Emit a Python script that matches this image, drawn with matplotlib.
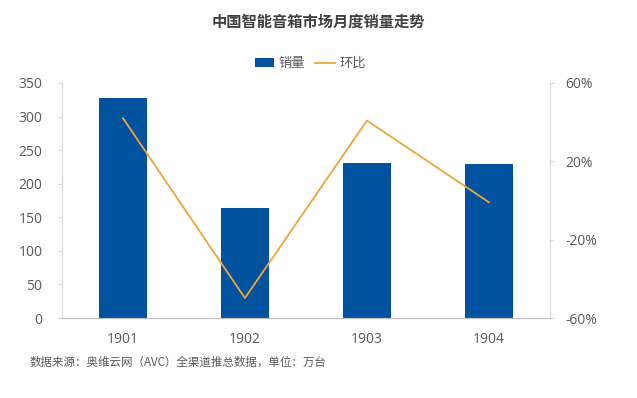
import matplotlib
matplotlib.use("Agg")
import matplotlib.pyplot as plt
from matplotlib.ticker import FuncFormatter
from matplotlib.lines import Line2D
from matplotlib.patches import Patch

plt.rcParams['font.family'] = ['Noto Sans CJK SC', 'DejaVu Sans']

months = ['1901', '1902', '1903', '1904']
sales = [327, 164, 231, 229]
mom = [42.0, -49.8, 40.8, -0.9]
left_ticks = [0, 50, 100, 150, 200, 250, 300, 350]
right_ticks = [-60, -20, 20, 60]

bar_color = '#00519E'
line_color = '#EEA53A'
text_color = '#595959'
spine_color = '#D9D9D9'

fig = plt.figure(figsize=(6.37, 3.98), dpi=100)
ax = fig.add_axes([0.0973, 0.201, 0.766, 0.5905])
ax2 = ax.twinx()

x = list(range(len(months)))
ax.bar(x, sales, width=0.4, color=bar_color, zorder=2)
ax2.plot(x, mom, color=line_color, lw=1.3, zorder=3)

ax.set_xlim(-0.5, 3.5)
ax.set_ylim(0, 350)
ax.set_yticks(left_ticks)
ax2.set_ylim(-60, 60)
ax2.set_yticks(right_ticks)
ax2.yaxis.set_major_formatter(FuncFormatter(lambda v, p: f'{int(v)}%'))

ax.set_xticks(x)
ax.set_xticklabels(months)

num_font = ['Open Sans', 'DejaVu Sans']
for a in (ax, ax2):
    a.spines['top'].set_visible(False)
    for s in ('left', 'right'):
        a.spines[s].set_color(spine_color)
        a.spines[s].set_linewidth(0.8)
    a.spines['bottom'].set_color('#BFBFBF')
    a.spines['bottom'].set_linewidth(0.8)
    a.tick_params(axis='y', colors=text_color, labelsize=10, length=3, width=0.8, color=spine_color)
    a.tick_params(axis='x', colors=text_color, labelsize=10, length=0, pad=10)
    for lab in a.get_xticklabels() + a.get_yticklabels():
        lab.set_family(num_font)
ax.tick_params(axis='y', pad=11)
ax2.tick_params(axis='y', pad=8)
ax2.set_zorder(ax.get_zorder() + 1)
ax2.patch.set_visible(False)

fig.text(0.5, 0.945, '中国智能音箱市场月度销量走势', ha='center', va='center',
         fontsize=11, fontweight='bold', color='#404040')

handles = [Patch(facecolor=bar_color, edgecolor='none'),
           Line2D([0], [0], color=line_color, lw=1.3)]
fig.legend(handles, ['销量', '环比'], loc='center', bbox_to_anchor=(0.487, 0.84),
           ncol=2, frameon=False, fontsize=9.5, labelcolor=text_color,
           handlelength=1.5, handleheight=0.6, handletextpad=0.3, columnspacing=0.8)

fig.text(0.047, 0.09, '数据来源：奥维云网（AVC）全渠道推总数据，单位：万台', ha='left', va='center',
         fontsize=8.3, color=text_color)

fig.savefig('out.png', dpi=100, facecolor='white')
